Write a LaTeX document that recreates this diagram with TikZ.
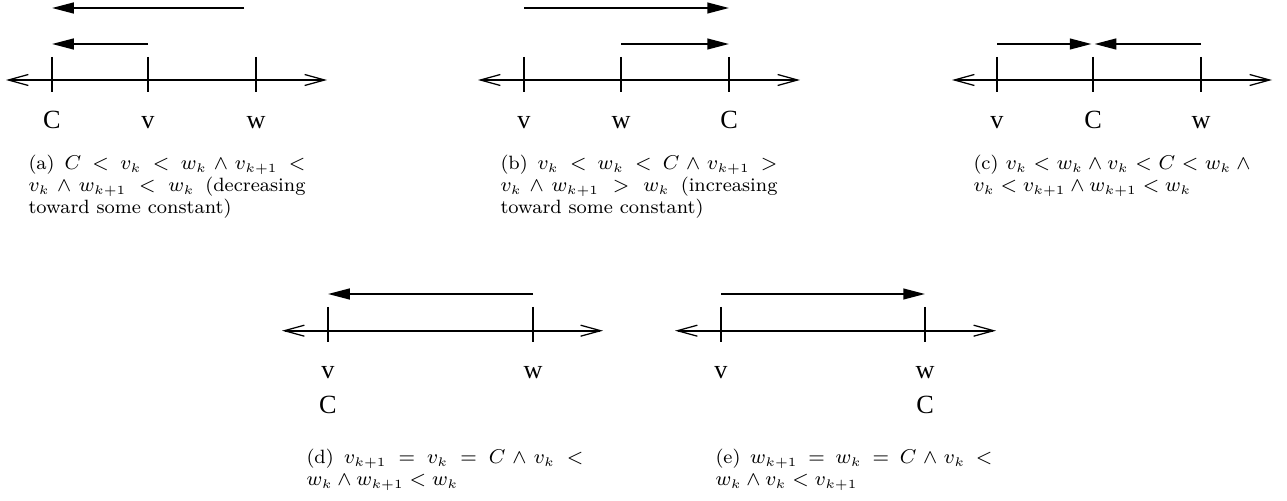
\documentclass[tikz,border=0pt]{standalone}
\usepackage{fontspec}
\usepackage{amsmath}
\usetikzlibrary{arrows.meta}
\newfontfamily\figfont{Liberation Serif}

\begin{document}
\begin{tikzpicture}[
    x=4pt, y=4pt,
    numline/.style={line width=0.8pt, {Straight Barb[length=8pt,width=4.4pt,line width=0.5pt]}-{Straight Barb[length=8pt,width=4.4pt,line width=0.5pt]}},
    tk/.style={line width=0.8pt},
    arr/.style={line width=0.8pt, -{Triangle[length=8.7pt,width=4.3pt]}},
    lbl/.style={font=\figfont\fontsize{10.5}{12}\selectfont, anchor=base, inner sep=0pt},
    capt/.style={font=\fontsize{7.7}{8.8}\selectfont, text width=110.8pt, align=justify, anchor=north west, inner sep=0pt}
]
    \useasboundingbox (0,0) rectangle (128.7,-50.1);

    % Row levels
    \coordinate (top1) at (0,-0.8);
    \coordinate (mid1) at (0,-4.4);
    \coordinate (hi1) at (0,-5.7);
    \coordinate (lo1) at (0,-9.2);
    \coordinate (lab1) at (0,-12.9);
    \coordinate (mid2) at (0,-29.4);
    \coordinate (hi2) at (0,-30.7);
    \coordinate (lo2) at (0,-34.2);
    \coordinate (lab2) at (0,-37.85);
    \coordinate (labC2) at (0,-41.3);

    % (a) decreasing
    \coordinate (aL) at (0.6,-8);
    \coordinate (aR) at (32.7,-8);
    \coordinate (aC) at (5.2,-8);
    \coordinate (av) at (14.8,-8);
    \coordinate (aw) at (25.6,-8);
    \coordinate (astart) at (24.4,-0.8);
    \draw[numline] (aL) -- (aR);
    \draw[tk] (aC |- hi1) -- (aC |- lo1);
    \draw[tk] (av |- hi1) -- (av |- lo1);
    \draw[tk] (aw |- hi1) -- (aw |- lo1);
    \draw[arr] (astart) -- (aC |- top1);
    \draw[arr] (av |- mid1) -- (aC |- mid1);
    \node[lbl] (aClab) at (aC |- lab1) {C};
    \node[lbl] (avlab) at (av |- lab1) {v};
    \node[lbl] (awlab) at (aw |- lab1) {w};
    \node[capt] (acap) at (2.8,-15.5) {(a) $C < v_k < w_k \wedge v_{k+1} < \penalty-10000 v_k \wedge w_{k+1} < w_k$ (decreasing\linebreak toward some constant)};

    % (b) increasing
    \coordinate (bL) at (47.8,-8);
    \coordinate (bR) at (80.0,-8);
    \coordinate (bv) at (52.4,-8);
    \coordinate (bw) at (62.1,-8);
    \coordinate (bC) at (72.9,-8);
    \draw[numline] (bL) -- (bR);
    \draw[tk] (bv |- hi1) -- (bv |- lo1);
    \draw[tk] (bw |- hi1) -- (bw |- lo1);
    \draw[tk] (bC |- hi1) -- (bC |- lo1);
    \draw[arr] (bv |- top1) -- (bC |- top1);
    \draw[arr] (bw |- mid1) -- (bC |- mid1);
    \node[lbl] (bvlab) at (bv |- lab1) {v};
    \node[lbl] (bwlab) at (bw |- lab1) {w};
    \node[lbl] (bClab) at (bC |- lab1) {C};
    \node[capt] (bcap) at (50.0,-15.5) {(b) $v_k < w_k < C \wedge v_{k+1} > \penalty-10000 v_k \wedge w_{k+1} > w_k$ (increasing\linebreak toward some constant)};

    % (c) C in between
    \coordinate (cL) at (95.2,-8);
    \coordinate (cR) at (127.2,-8);
    \coordinate (cv) at (99.7,-8);
    \coordinate (cC) at (109.3,-8);
    \coordinate (cw) at (120.1,-8);
    \draw[numline] (cL) -- (cR);
    \draw[tk] (cv |- hi1) -- (cv |- lo1);
    \draw[tk] (cC |- hi1) -- (cC |- lo1);
    \draw[tk] (cw |- hi1) -- (cw |- lo1);
    \draw[arr, shorten >=0.6pt] (cv |- mid1) -- (cC |- mid1);
    \draw[arr, shorten >=0.6pt] (cw |- mid1) -- (cC |- mid1);
    \node[lbl] (cvlab) at (cv |- lab1) {v};
    \node[lbl] (cClab) at (cC |- lab1) {C};
    \node[lbl] (cwlab) at (cw |- lab1) {w};
    \node[capt] (ccap) at (97.3,-15.5) {(c) $v_k < w_k \wedge v_k < C < w_k \wedge \penalty-10000 v_k < v_{k+1} \wedge w_{k+1} < w_k$};

    % (d) v already at C
    \coordinate (dL) at (28.2,-33.07);
    \coordinate (dR) at (60.3,-33.07);
    \coordinate (dv) at (32.8,-33.07);
    \coordinate (dw) at (53.3,-33.07);
    \draw[numline] (dL) -- (dR);
    \draw[tk] (dv |- hi2) -- (dv |- lo2);
    \draw[tk] (dw |- hi2) -- (dw |- lo2);
    \draw[arr] (dw |- mid2) -- (dv |- mid2);
    \node[lbl] (dvlab) at (dv |- lab2) {v};
    \node[lbl] (dwlab) at (dw |- lab2) {w};
    \node[lbl] (dClab) at (dv |- labC2) {C};
    \node[capt] (dcap) at (30.6,-44.9) {(d) $v_{k+1} = v_k = C \wedge v_k < \penalty-10000 w_k \wedge w_{k+1} < w_k$};

    % (e) w already at C
    \coordinate (eL) at (67.5,-33.07);
    \coordinate (eR) at (99.6,-33.07);
    \coordinate (ev) at (72.1,-33.07);
    \coordinate (ew) at (92.5,-33.07);
    \draw[numline] (eL) -- (eR);
    \draw[tk] (ev |- hi2) -- (ev |- lo2);
    \draw[tk] (ew |- hi2) -- (ew |- lo2);
    \draw[arr] (ev |- mid2) -- (ew |- mid2);
    \node[lbl] (evlab) at (ev |- lab2) {v};
    \node[lbl] (ewlab) at (ew |- lab2) {w};
    \node[lbl] (eClab) at (ew |- labC2) {C};
    \node[capt] (ecap) at (71.5,-44.9) {(e) $w_{k+1} = w_k = C \wedge v_k < \penalty-10000 w_k \wedge v_k < v_{k+1}$};
\end{tikzpicture}
\end{document}
